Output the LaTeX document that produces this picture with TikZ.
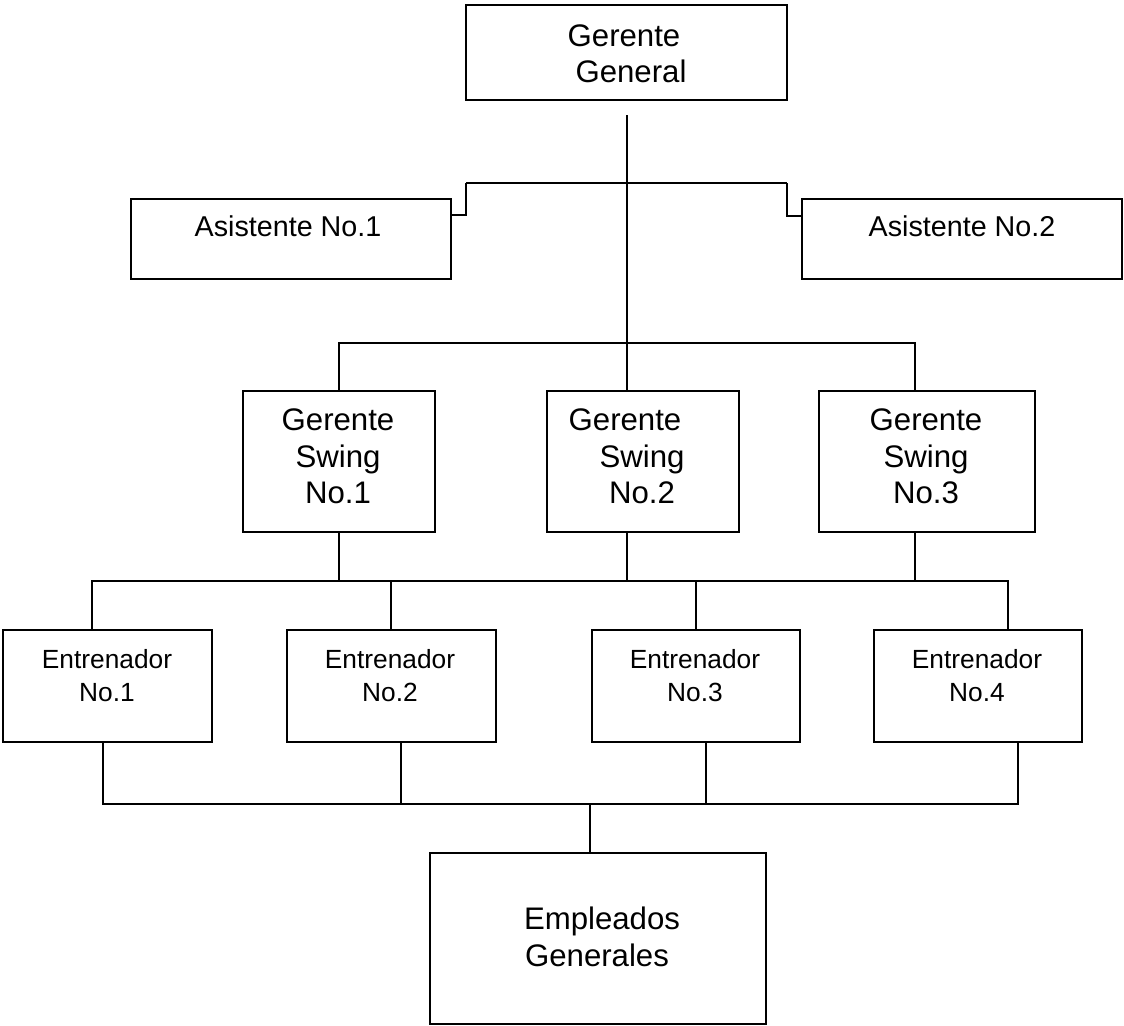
\documentclass[tikz,border=0pt]{standalone}
\usepackage{fontspec}
\setmainfont{Liberation Sans}
\begin{document}
\begin{tikzpicture}[x=1bp,y=-1bp,
  box/.style={draw, line width=1.3bp, inner sep=0pt, outer sep=0pt},
  lbl/.style={align=center, inner sep=0pt, outer sep=0pt},
  wire/.style={line width=1.3bp},
  big/.style={font=\fontsize{31.3}{36.5}\selectfont},
  mid/.style={font=\fontsize{28.8}{34}\selectfont},
  small/.style={font=\fontsize{26.4}{33.3}\selectfont}]
\useasboundingbox (0,0) rectangle (1124,1026);

% ---- boxes ----
\node[box, minimum width=321bp, minimum height=95bp]  (gg) at (626.5,52.5) {};
\node[box, minimum width=320bp, minimum height=80bp]  (a1) at (291,239) {};
\node[box, minimum width=320bp, minimum height=80bp]  (a2) at (962,239) {};
\node[box, minimum width=192bp, minimum height=141bp] (s1) at (339,461.5) {};
\node[box, minimum width=192bp, minimum height=141bp] (s2) at (643,461.5) {};
\node[box, minimum width=216bp, minimum height=141bp] (s3) at (927,461.5) {};
\node[box, minimum width=209bp, minimum height=112bp] (e1) at (107.5,686) {};
\node[box, minimum width=209bp, minimum height=112bp] (e2) at (391.5,686) {};
\node[box, minimum width=208bp, minimum height=112bp] (e3) at (696,686) {};
\node[box, minimum width=208bp, minimum height=112bp] (e4) at (978,686) {};
\node[box, minimum width=336bp, minimum height=171bp] (emp) at (598,938.5) {};

% ---- texts ----
\node[lbl, big] (tgg) at (624,53.5) {Gerente\\\hspace*{14bp}General};
\node[lbl, mid] (ta1) at (288,226) {Asistente No.1};
\node[lbl, mid] (ta2) at (962,226) {Asistente No.2};
\node[lbl, big] (ts1) at (338,456.5) {Gerente\\Swing\\No.1};
\node[lbl, big] (ts2) at (625,456.5) {Gerente\\\hspace*{34bp}Swing\\\hspace*{34bp}No.2};
\node[lbl, big] (ts3) at (926,456.5) {Gerente\\Swing\\No.3};
\node[lbl, small] (te1) at (107,676) {Entrenador\\No.1};
\node[lbl, small] (te2) at (390,676) {Entrenador\\No.2};
\node[lbl, small] (te3) at (695,676) {Entrenador\\No.3};
\node[lbl, small] (te4) at (977,676) {Entrenador\\No.4};
\node[lbl, big] (temp) at (602,937) {Empleados\\Generales\hspace*{10bp}};

% ---- junction points ----
\coordinate (trunk) at (627,115);
\coordinate (asL) at (466,183);
\coordinate (asR) at (787,183);
\coordinate (k1) at (451,215);
\coordinate (k2) at (802,216);
\coordinate (b1L) at (339,343);
\coordinate (b1R) at (915,343);
\coordinate (b2L) at (92,581);
\coordinate (b2R) at (1008,581);
\coordinate (u2) at (391,581);
\coordinate (u3) at (696,581);
\coordinate (b3L) at (103,804);
\coordinate (b3R) at (1018,804);
\coordinate (d2) at (401,804);
\coordinate (d3) at (706,804);
\coordinate (dE) at (590,804);

% ---- connectors ----
\draw[wire] (trunk) -- (trunk |- s2.north);
\draw[wire] (asL) -- (asR);
\draw[wire] (asL) |- (k1);
\draw[wire] (asR) |- (k2);
\draw[wire] (b1L |- s1.north) -- (b1L) -- (b1R) -- (b1R |- s3.north);
\draw[wire] (b1L |- s1.south) -- (b1L |- b2L);
\draw[wire] (trunk |- s2.south) -- (trunk |- b2L);
\draw[wire] (b1R |- s3.south) -- (b1R |- b2L);
\draw[wire] (b2L |- e1.north) -- (b2L) -- (b2R) -- (b2R |- e4.north);
\draw[wire] (u2) -- (u2 |- e2.north);
\draw[wire] (u3) -- (u3 |- e3.north);
\draw[wire] (b3L |- e1.south) -- (b3L) -- (b3R) -- (b3R |- e4.south);
\draw[wire] (d2) -- (d2 |- e2.south);
\draw[wire] (d3) -- (d3 |- e3.south);
\draw[wire] (dE) -- (dE |- emp.north);
\end{tikzpicture}
\end{document}
